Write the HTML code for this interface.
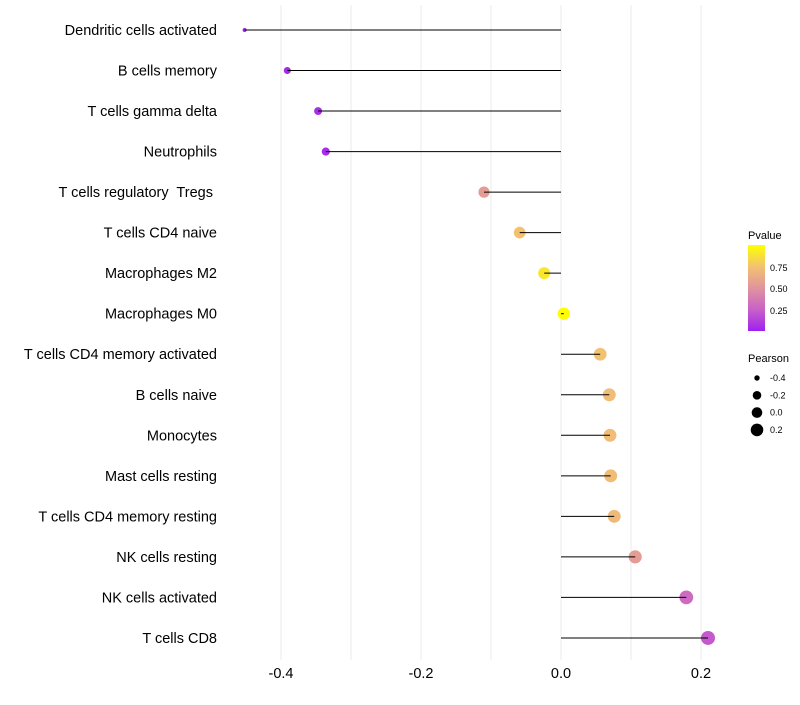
<!DOCTYPE html>
<html><head><meta charset="utf-8"><style>
body{margin:0;background:#fff;font-family:"Liberation Sans",sans-serif}
svg text{font-family:"Liberation Sans",sans-serif;white-space:pre}
</style></head><body>
<svg id="chart" width="800" height="700" xmlns="http://www.w3.org/2000/svg">
<g id="grid"></g>
<g id="marks"></g>
<g id="ylabels"></g>
<g id="xlabels"></g>
<g id="legend">
<defs><linearGradient id="pg" x1="0" y1="1" x2="0" y2="0">
<stop offset="0" stop-color="#A020F0"/><stop offset="0.25" stop-color="#C861C8"/><stop offset="0.5" stop-color="#E0949E"/><stop offset="0.75" stop-color="#F2C270"/><stop offset="1" stop-color="#FFFF00"/></linearGradient></defs>
<text x="748" y="239" font-size="11">Pvalue</text>
<rect x="748" y="245" width="17" height="86" fill="url(#pg)"/>
<text x="770" y="271" font-size="9">0.75</text>
<text x="770" y="292" font-size="9">0.50</text>
<text x="770" y="314" font-size="9">0.25</text>
<text x="748" y="362" font-size="11">Pearson</text>
<g id="sizeleg"></g>
</g>
</svg>
<script>
const categories=["Dendritic cells activated","B cells memory","T cells gamma delta","Neutrophils","T cells regulatory  Tregs ","T cells CD4 naive","Macrophages M2","Macrophages M0","T cells CD4 memory activated","B cells naive","Monocytes","Mast cells resting","T cells CD4 memory resting","NK cells resting","NK cells activated","T cells CD8"];
const pearson=[-0.452,-0.391,-0.347,-0.336,-0.11,-0.059,-0.024,0.004,0.056,0.069,0.07,0.071,0.076,0.106,0.179,0.21];
const pvalues=[0.01,0.03,0.05,0.05,0.55,0.75,0.9,0.99,0.75,0.72,0.72,0.72,0.7,0.55,0.3,0.22];
const xTicks=[-0.4,-0.2,0.0,0.2];
const xTickLabels=["-0.4","-0.2","0.0","0.2"];
const sizeLegend=[-0.4,-0.2,0.0,0.2];
const NS="http://www.w3.org/2000/svg";
const x=v=>561+v*700;
const y=i=>30+i*40.53;
const pmin=Math.min(...pearson),pmax=Math.max(...pearson);
const r=v=>2+5*Math.sqrt(Math.max(0,(v-pmin)/(pmax-pmin)));
const stops=[[0,[160,32,240]],[0.25,[200,97,200]],[0.5,[224,148,158]],[0.75,[242,194,112]],[1,[255,255,0]]];
function col(p){for(let k=1;k<stops.length;k++){if(p<=stops[k][0]){const a=stops[k-1],b=stops[k],t=(p-a[0])/(b[0]-a[0]);return `rgb(${a[1].map((c,j)=>Math.round(c+(b[1][j]-c)*t)).join(",")})`;}}return "rgb(255,255,0)";}
function mk(tag,at,parent){const e=document.createElementNS(NS,tag);for(const k in at)e.setAttribute(k,at[k]);document.getElementById(parent).appendChild(e);return e;}
for(let v=-0.4;v<=0.21;v+=0.1){const l=mk("line",{x1:x(v),x2:x(v),y1:5,y2:660,stroke:"#ebebeb","stroke-width":1},"grid");

}
categories.forEach((c,i)=>{
const p=mk("circle",{cx:x(pearson[i]),cy:y(i),r:r(pearson[i]),fill:col(pvalues[i])},"marks");


const l=mk("line",{x1:x(0),x2:x(pearson[i]),y1:y(i),y2:y(i),stroke:"#000","stroke-width":1},"marks");


const t=mk("text",{x:217,y:y(i)+5,"text-anchor":"end","font-size":14.5,fill:"#000"},"ylabels");
t.textContent=c;


});
xTicks.forEach((v,i)=>{const t=mk("text",{x:x(v),y:678,"text-anchor":"middle","font-size":14.5},"xlabels");
t.textContent=xTickLabels[i];

});
const legR=[2.7,4.3,5.3,6.3];
sizeLegend.forEach((v,i)=>{const yy=378+i*17.3;
const c=mk("circle",{cx:757,cy:yy,r:legR[i],fill:"#000"},"sizeleg");


const t=mk("text",{x:770,y:yy+3,"font-size":9},"sizeleg");
t.textContent=v.toFixed(1);

});
</script>
</body></html>
